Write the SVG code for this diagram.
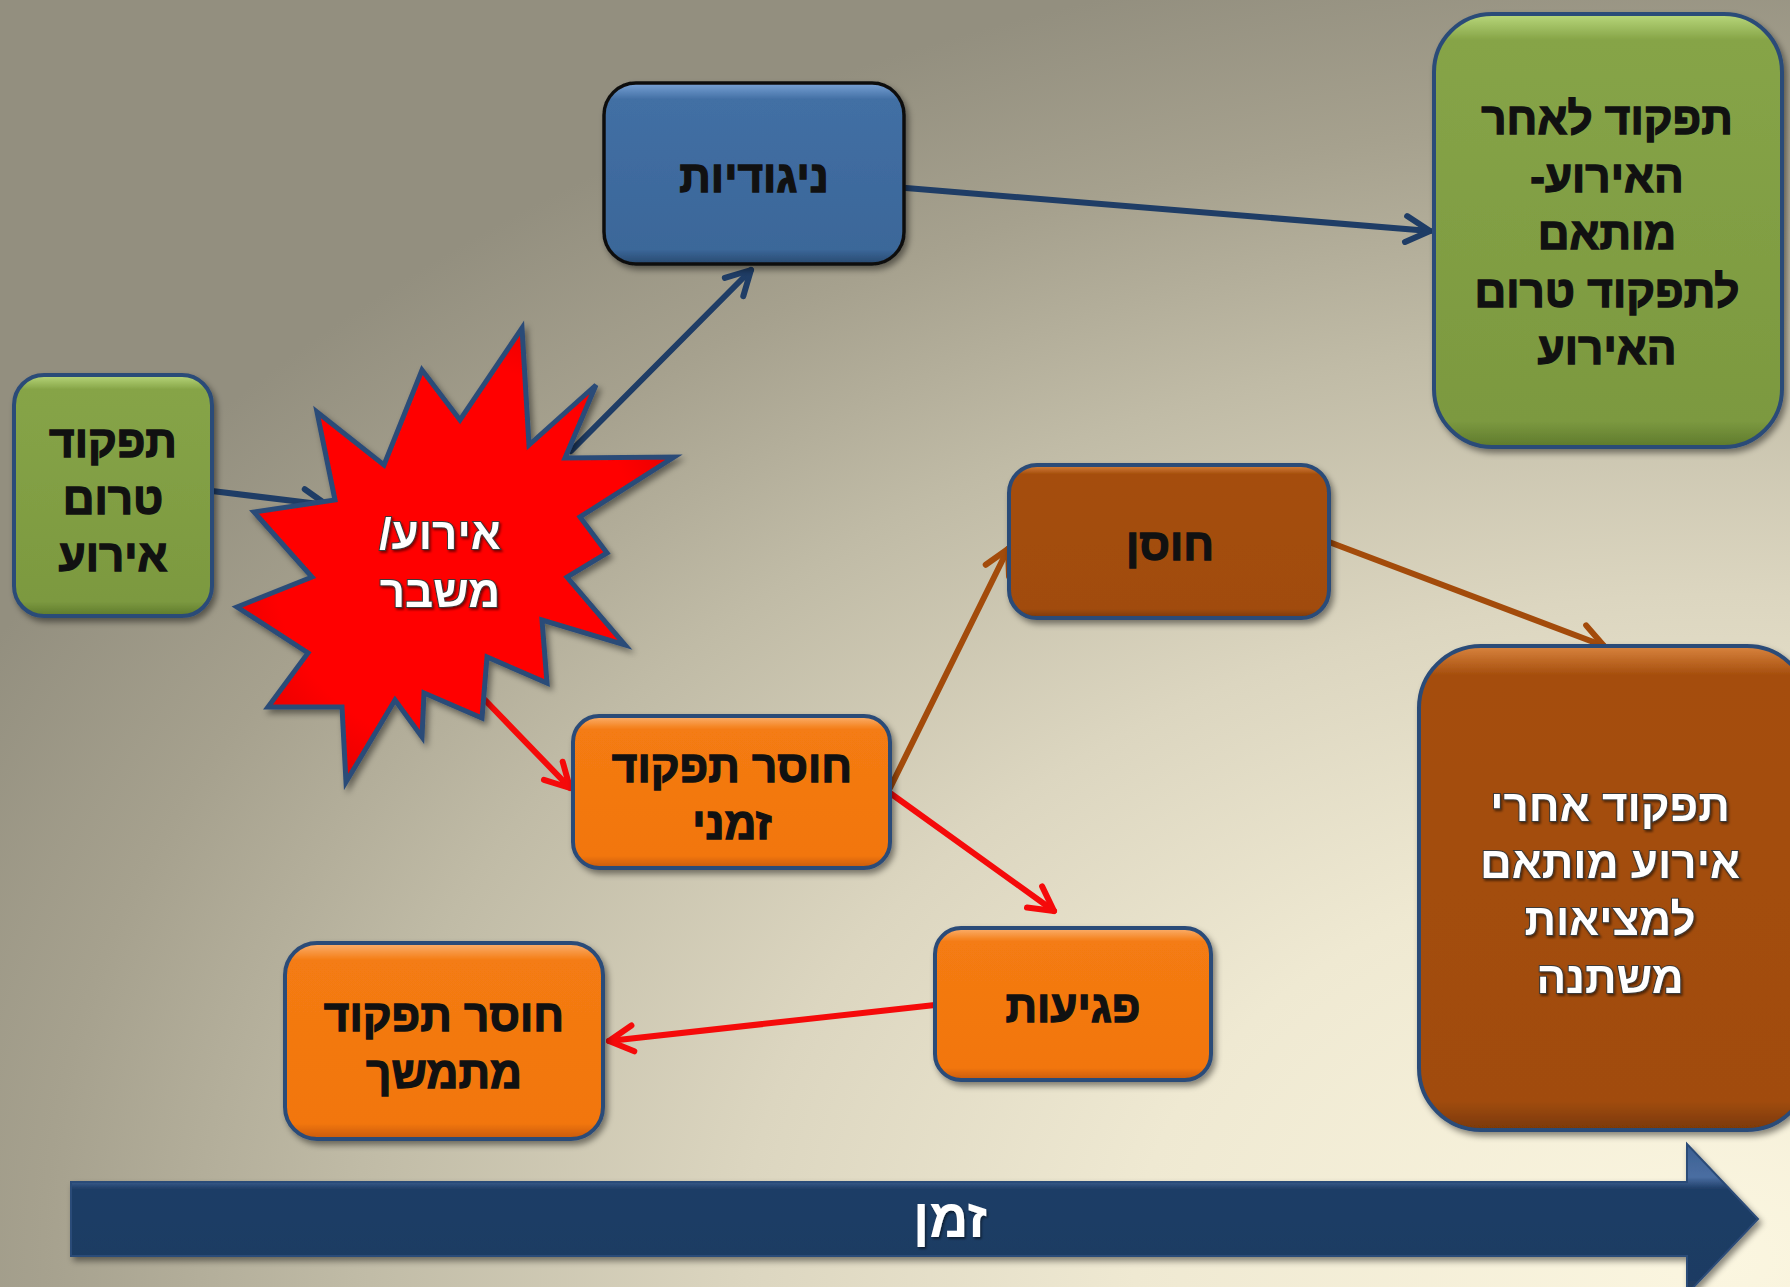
<svg xmlns="http://www.w3.org/2000/svg" width="1790" height="1287" viewBox="0 0 1790 1287">
<defs>
  <radialGradient id="bg" cx="0" cy="0" r="1" gradientUnits="userSpaceOnUse" gradientTransform="translate(1720 1260) scale(1950 1330)">
    <stop offset="0" stop-color="#fbf6e0"/>
    <stop offset="0.3" stop-color="#efe9d2"/>
    <stop offset="0.5" stop-color="#dcd6c0"/>
    <stop offset="0.7" stop-color="#c0bba6"/>
    <stop offset="0.86" stop-color="#a6a18e"/>
    <stop offset="1" stop-color="#938f7f"/>
  </radialGradient>
  <linearGradient id="gGreen" x1="0" y1="0" x2="0" y2="1">
    <stop offset="0" stop-color="#b9d87c"/>
    <stop offset="0.06" stop-color="#86a447"/>
    <stop offset="0.94" stop-color="#7c9940"/>
    <stop offset="1" stop-color="#5e7a2c"/>
  </linearGradient>
  <linearGradient id="gBlue" x1="0" y1="0" x2="0" y2="1">
    <stop offset="0" stop-color="#7aa3d6"/>
    <stop offset="0.09" stop-color="#426fa4"/>
    <stop offset="0.92" stop-color="#3b6799"/>
    <stop offset="1" stop-color="#28496f"/>
  </linearGradient>
  <linearGradient id="gOrange" x1="0" y1="0" x2="0" y2="1">
    <stop offset="0" stop-color="#fbb170"/>
    <stop offset="0.09" stop-color="#f47b12"/>
    <stop offset="0.92" stop-color="#f2760f"/>
    <stop offset="1" stop-color="#c75a06"/>
  </linearGradient>
  <linearGradient id="gBrown" x1="0" y1="0" x2="0" y2="1">
    <stop offset="0" stop-color="#d9843f"/>
    <stop offset="0.06" stop-color="#a54e0d"/>
    <stop offset="0.94" stop-color="#a14c0c"/>
    <stop offset="1" stop-color="#7a3806"/>
  </linearGradient>
  <linearGradient id="gTime" x1="0" y1="0" x2="0" y2="1">
    <stop offset="0" stop-color="#3b5f91"/>
    <stop offset="0.22" stop-color="#4a6ea2"/>
    <stop offset="0.3" stop-color="#1f3d66"/>
    <stop offset="0.9" stop-color="#1e3b63"/>
    <stop offset="1" stop-color="#2a3d58"/>
  </linearGradient>
  <radialGradient id="gStar" cx="0.5" cy="0.5" r="0.6">
    <stop offset="0.7" stop-color="#ff0000"/>
    <stop offset="1" stop-color="#e00000"/>
  </radialGradient>
  <filter id="shadow" x="-10%" y="-10%" width="125%" height="125%">
    <feDropShadow dx="3" dy="4" stdDeviation="3" flood-color="#000" flood-opacity="0.45"/>
  </filter>
  <filter id="tshadow" x="-10%" y="-10%" width="125%" height="130%">
    <feDropShadow dx="1.5" dy="2" stdDeviation="1" flood-color="#000" flood-opacity="0.5"/>
  </filter>
  <marker id="aNavy" viewBox="-30 -18 36 36" markerWidth="36" markerHeight="36" refX="0" refY="0" orient="auto" markerUnits="userSpaceOnUse">
    <path d="M -24 -13 L 0 0 L -24 13" fill="none" stroke="#1f3d66" stroke-width="6" stroke-linecap="round" stroke-linejoin="round"/>
  </marker>
  <marker id="aRed" viewBox="-30 -18 36 36" markerWidth="36" markerHeight="36" refX="0" refY="0" orient="auto" markerUnits="userSpaceOnUse">
    <path d="M -24 -13 L 0 0 L -24 13" fill="none" stroke="#f50a0a" stroke-width="6" stroke-linecap="round" stroke-linejoin="round"/>
  </marker>
  <marker id="aBrown" viewBox="-30 -18 36 36" markerWidth="36" markerHeight="36" refX="0" refY="0" orient="auto" markerUnits="userSpaceOnUse">
    <path d="M -24 -13 L 0 0 L -24 13" fill="none" stroke="#a34b0b" stroke-width="6" stroke-linecap="round" stroke-linejoin="round"/>
  </marker>
</defs>
<style>
  .box { stroke: #2c4b78; stroke-width: 4; filter: url(#shadow); }
  .lbl { font-family: "Liberation Sans", "DejaVu Sans", Arial, sans-serif; font-weight: bold; font-size: 44px; text-anchor: middle; fill: #111; stroke: #111; stroke-width: 1.3; }
  .wlbl { font-family: "Liberation Sans", "DejaVu Sans", Arial, sans-serif; font-weight: bold; font-size: 44px; text-anchor: middle; fill: #ffffff; stroke: #3a3a3a; stroke-width: 2; paint-order: stroke; filter: url(#tshadow); }
  .con { fill: none; stroke-width: 6; stroke-linecap: round; }
  .navy { stroke: #1f3d66; marker-end: url(#aNavy); }
  .red { stroke: #f50a0a; marker-end: url(#aRed); }
  .brown { stroke: #a34b0b; marker-end: url(#aBrown); }
</style>

<rect x="0" y="0" width="1790" height="1287" fill="url(#bg)"/>

<!-- time arrow -->
<g id="time-arrow">
  <polygon points="71,1182 1687,1182 1687,1144 1758,1219 1687,1294 1687,1256 71,1256" fill="url(#gTime)" stroke="#2c4b78" stroke-width="2" filter="url(#shadow)"/>
  <text x="950" y="1237" direction="rtl" style="font-family: 'Liberation Sans', 'DejaVu Sans', sans-serif; font-weight: bold; font-size: 54px; text-anchor: middle; fill: #ffffff;" filter="url(#tshadow)">זמן</text>
</g>

<!-- connectors -->
<g id="connectors">
  <line class="con navy" x1="212" y1="491" x2="327" y2="505"/>
  <line class="con navy" x1="571" y1="451" x2="751" y2="270"/>
  <line class="con navy" x1="906" y1="188" x2="1430" y2="231"/>
  <line class="con red" x1="485" y1="700" x2="570" y2="788"/>
  <line class="con brown" x1="890" y1="788" x2="1008" y2="549"/>
  <line class="con red" x1="890" y1="793" x2="1054" y2="911"/>
  <line class="con brown" x1="1329" y1="542" x2="1604" y2="646"/>
  <line class="con red" x1="935" y1="1005" x2="609" y2="1041"/>
</g>

<!-- nodes -->
<g id="pre-event">
  <rect class="box" x="14" y="375" width="198" height="241" rx="30" fill="url(#gGreen)"/>
  <text class="lbl" direction="rtl" x="113" y="457">תפקוד</text>
  <text class="lbl" direction="rtl" x="113" y="514">טרום</text>
  <text class="lbl" direction="rtl" x="113" y="571">אירוע</text>
</g>

<g id="crisis">
  <polygon points="522,328 529,445 596,385 565,458 674,457 580,517 607,553 567,577 625,645 542,620 547,683 487,657 482,718 424,693 422,737 395,700 346,782 342,707 268,707 308,653 237,607 312,577 254,512 335,500 317,412 384,465 422,370 460,420" fill="url(#gStar)" stroke="#2c4b78" stroke-width="5" stroke-linejoin="miter" filter="url(#shadow)"/>
  <text class="wlbl" direction="rtl" x="440" y="549">אירוע/</text>
  <text class="wlbl" direction="rtl" x="440" y="607">משבר</text>
</g>

<g id="resistance">
  <rect x="604" y="83" width="300" height="181" rx="32" fill="url(#gBlue)" stroke="#111" stroke-width="3.5" filter="url(#shadow)"/>
  <text class="lbl" direction="rtl" x="754" y="192">ניגודיות</text>
</g>

<g id="post-same">
  <rect class="box" x="1434" y="14" width="348" height="433" rx="58" fill="url(#gGreen)"/>
  <text class="lbl" direction="rtl" x="1607" y="134">תפקוד לאחר</text>
  <text class="lbl" direction="rtl" x="1607" y="192">האירוע-</text>
  <text class="lbl" direction="rtl" x="1607" y="249">מותאם</text>
  <text class="lbl" direction="rtl" x="1607" y="307">לתפקוד טרום</text>
  <text class="lbl" direction="rtl" x="1607" y="364">האירוע</text>
</g>

<g id="resilience">
  <rect class="box" x="1009" y="465" width="320" height="153" rx="28" fill="url(#gBrown)"/>
  <text class="lbl" direction="rtl" x="1170" y="560">חוסן</text>
</g>

<g id="post-adapted">
  <rect class="box" x="1419" y="646" width="390" height="484" rx="62" fill="url(#gBrown)"/>
  <text class="wlbl" direction="rtl" x="1610" y="821">תפקוד אחרי</text>
  <text class="wlbl" direction="rtl" x="1610" y="878">אירוע מותאם</text>
  <text class="wlbl" direction="rtl" x="1610" y="935">למציאות</text>
  <text class="wlbl" direction="rtl" x="1610" y="993">משתנה</text>
</g>

<g id="temp-dysfunction">
  <rect class="box" x="573" y="716" width="317" height="152" rx="26" fill="url(#gOrange)"/>
  <text class="lbl" direction="rtl" x="732" y="782">חוסר תפקוד</text>
  <text class="lbl" direction="rtl" x="732" y="839">זמני</text>
</g>

<g id="vulnerability">
  <rect class="box" x="935" y="928" width="276" height="152" rx="26" fill="url(#gOrange)"/>
  <text class="lbl" direction="rtl" x="1073" y="1022">פגיעות</text>
</g>

<g id="chronic-dysfunction">
  <rect class="box" x="285" y="943" width="318" height="196" rx="32" fill="url(#gOrange)"/>
  <text class="lbl" direction="rtl" x="444" y="1031">חוסר תפקוד</text>
  <text class="lbl" direction="rtl" x="444" y="1088">מתמשך</text>
</g>
</svg>
